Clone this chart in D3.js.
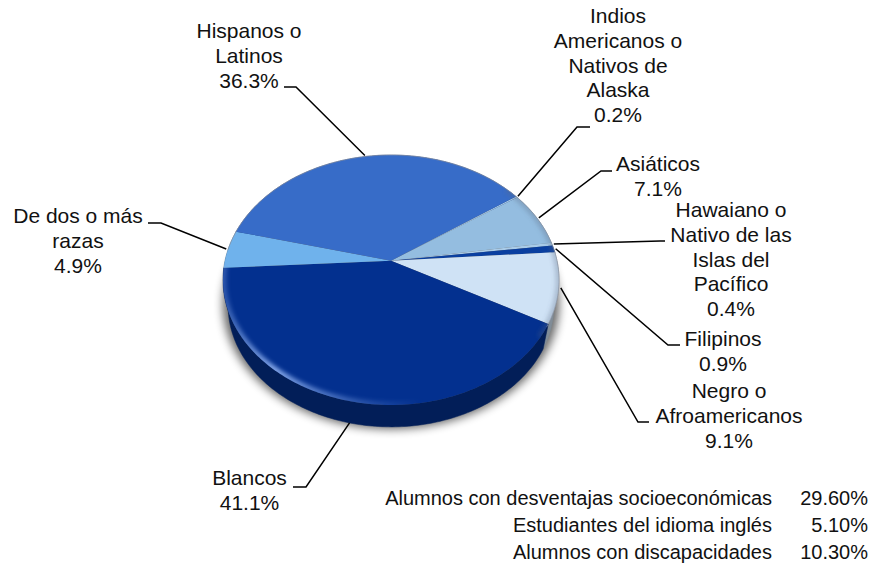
<!DOCTYPE html>
<html>
<head>
<meta charset="utf-8">
<script src="https://cdn.jsdelivr.net/npm/d3@7"></script>
<style>
html,body{margin:0;padding:0;background:#fff}
text{font-family:"Liberation Sans",Arial,sans-serif;fill:#111}
</style>
</head>
<body>
<svg width="883" height="566"></svg>
<script>
// clockwise from the top right, same order as the picture
const groups=["Indios Americanos o Nativos de Alaska","Asiáticos","Hawaiano o Nativo de las Islas del Pacífico","Filipinos","Negro o Afroamericanos","Blancos","De dos o más razas","Hispanos o Latinos"]
const shares=[0.2,7.1,0.4,0.9,9.1,41.1,4.9,36.3]
const colors=["#a5c6e4","#94bde0","#a9cbe8","#0a3fa0","#cfe2f5","#03308f","#6fb2ec","#376cc8"]
const statNames=["Alumnos con desventajas socioeconómicas","Estudiantes del idioma inglés","Alumnos con discapacidades"]
const statValues=["29.60%","5.10%","10.30%"]

// label lines, baselines and leader bends
const labels=[
{lines:["Indios","Americanos o","Nativos de","Alaska","0.2%"],x:618,y:23,bend:[577,127],end:[590,127]},
{lines:["Asiáticos","7.1%"],x:658,y:171,bend:[601,171],end:[612,171]},
{lines:["Hawaiano o","Nativo de las","Islas del","Pacífico","0.4%"],x:731,y:217,bend:[660,241],end:[665,241]},
{lines:["Filipinos","0.9%"],x:723,y:346,bend:[668,345],end:[680,345]},
{lines:["Negro o","Afroamericanos","9.1%"],x:729,y:398,bend:[638,422],end:[649,422]},
{lines:["Blancos","41.1%"],x:249.5,y:485,bend:[306,487],end:[293,487]},
{lines:["De dos o más","razas","4.9%"],x:78,y:223,bend:[161,223],end:[148,223]},
{lines:["Hispanos o","Latinos","36.3%"],x:249,y:38,bend:[296,87],end:[284,87]}
]

const svg=d3.select("svg")
const defs=svg.append("defs")
const rad=Math.PI/180
const cx=391,cy=260.7
const bx=166,by=122,k=0.1544

// the pie is seen in perspective, so its centre sits above the middle of the ellipse
const rim=(a,s=1,dy=0)=>{
let u=Math.sin(a)*s
let v=-Math.cos(a)*s
let w=1-k*v
return [cx+bx*u/w,cy+by*v/w+dy]
}
const arcPts=(a0,a1,s=1,dy=0)=>{
let n=Math.max(2,Math.ceil(Math.abs(a1-a0)/(1*rad)))
return d3.range(n+1).map(i=>rim(a0+(a1-a0)*i/n,s,dy))
}
const line=d3.line()
const sideS=0.97,sideD=27

const pie=d3.pie().sort(null).value(d=>d).startAngle(55*rad).endAngle(55*rad+2*Math.PI)
const slices=pie(shares)

defs.append("filter").attr("id","soft").attr("x","-20%").attr("y","-20%").attr("width","140%").attr("height","140%")
.append("feGaussianBlur").attr("stdDeviation",5)
defs.append("filter").attr("id","edge").attr("x","-20%").attr("y","-20%").attr("width","140%").attr("height","140%")
.append("feGaussianBlur").attr("stdDeviation",2.2)
defs.append("clipPath").attr("id","top").append("path")
.attr("d",line(arcPts(0,2*Math.PI))+"Z")

let glow=defs.append("linearGradient").attr("id","glow").attr("gradientUnits","userSpaceOnUse")
.attr("x1",225).attr("y1",300).attr("x2",420).attr("y2",405)
glow.append("stop").attr("offset",0).attr("stop-color","#7ea2e4").attr("stop-opacity",0.35)
glow.append("stop").attr("offset",0.35).attr("stop-color","#86a8ea").attr("stop-opacity",1)
glow.append("stop").attr("offset",1).attr("stop-color","#5f86d0").attr("stop-opacity",0)

// shadow under the disc
svg.append("path").attr("d",line(arcPts(0,2*Math.PI,1,24))+"Z")
.attr("fill","#000").attr("opacity",0.6).attr("filter","url(#soft)")

// side wall
svg.selectAll(".side").data(slices).join("path").attr("class","side")
.attr("d",d=>line(arcPts(d.startAngle,d.endAngle).concat(arcPts(d.endAngle,d.startAngle,sideS,sideD)))+"Z")
.attr("fill",(d,i)=>d3.color(colors[i]).darker(1.35))
.attr("stroke",(d,i)=>d3.color(colors[i]).darker(1.35)).attr("stroke-width",0.5)

// top surface
svg.selectAll(".slice").data(slices).join("path").attr("class","slice")
.attr("d",d=>line([[cx,cy]].concat(arcPts(d.startAngle,d.endAngle)))+"Z")
.attr("fill",(d,i)=>colors[i])

let shade=svg.append("g").attr("clip-path","url(#top)")
shade.append("path").attr("d",line(arcPts(268*rad,140*rad)))
.attr("fill","none").attr("stroke","url(#glow)").attr("stroke-width",7).attr("filter","url(#edge)")
shade.append("path").attr("d",line(arcPts(50*rad,125*rad)))
.attr("fill","none").attr("stroke","#56647e").attr("stroke-opacity",0.3).attr("stroke-width",7).attr("filter","url(#edge)")
svg.append("path").attr("d",line(arcPts(275*rad,480*rad))).attr("fill","none")
.attr("stroke","#8d94a3").attr("stroke-opacity",0.6).attr("stroke-width",1)

// leaders start at the middle of each slice
svg.selectAll(".leader").data(slices).join("path").attr("class","leader")
.attr("d",(d,i)=>{
let mid=(d.startAngle+d.endAngle)/2
let start=groups[i]=="Blancos"?rim(mid,sideS,sideD):rim(mid,1.012)
return line([start,labels[i].bend,labels[i].end])
})
.attr("fill","none").attr("stroke","#000").attr("stroke-width",1.5)

labels.forEach(l=>{
let t=svg.append("text").attr("text-anchor","middle").attr("font-size",21)
l.lines.forEach((s,i)=>{
t.append("tspan").attr("x",l.x).attr("y",l.y+i*24.8).text(s)
})
})

const statY=d3.scalePoint().domain(statNames).range([505,559])
statNames.forEach((s,i)=>{
svg.append("text").attr("x",772).attr("y",statY(s)).attr("text-anchor","end").attr("font-size",20).text(s)
svg.append("text").attr("x",868).attr("y",statY(s)).attr("text-anchor","end").attr("font-size",20).text(statValues[i])
})
</script>
</body>
</html>
